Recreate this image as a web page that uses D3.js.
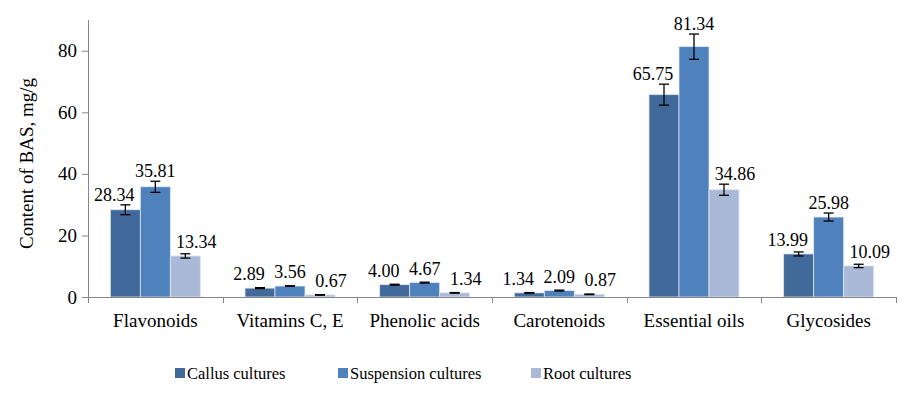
<!DOCTYPE html>
<html>
<head>
<meta charset="utf-8">
<script src="https://cdn.jsdelivr.net/npm/d3@7"></script>
<style>
  body { margin: 0; background: #fff; }
  svg { display: block; }
</style>
</head>
<body>
<div id="chart"></div>
<script>
var categories = ["Flavonoids", "Vitamins C, E", "Phenolic acids", "Carotenoids", "Essential oils", "Glycosides"];
var seriesNames = ["Callus cultures", "Suspension cultures", "Root cultures"];
var callus = [28.34, 2.89, 4.00, 1.34, 65.75, 13.99];
var suspension = [35.81, 3.56, 4.67, 2.09, 81.34, 25.98];
var roots = [13.34, 0.67, 1.34, 0.87, 34.86, 10.09];
// error bar half-widths
var callusErr = [1.6, 0.15, 0.15, 0.1, 3.4, 0.65];
var suspensionErr = [1.8, 0.1, 0.15, 0.15, 4.1, 1.3];
var rootsErr = [0.7, 0.1, 0.1, 0.1, 1.8, 0.55];
var yTicks = [0, 20, 40, 60, 80];
var colors = ["#416a9b", "#4f81bd", "#aab9d7"];

var FONT = "'Liberation Serif', 'Times New Roman', 'DejaVu Serif', serif";
var W = 924, H = 394;
var m = {left: 88, right: 28, top: 20, bottom: 97};

var svg = d3.select("#chart").append("svg").attr("width", W).attr("height", H);

var x = d3.scaleBand().domain(categories).range([m.left, W - m.right]);
var y = d3.scaleLinear().domain([0, 90]).range([H - m.bottom, m.top]);

var values = [callus, suspension, roots];
var errs = [callusErr, suspensionErr, rootsErr];
var barW = 30;

var rows = [];
categories.forEach(function(c, ci){
    values.forEach(function(s, si){
        rows.push({cat: c, s: si, v: s[ci], e: errs[si][ci]});
    });
});

function bx(d){ return x(d.cat) + x.bandwidth() / 2 - 1.5 * barW + d.s * barW; }

// y axis
var yAxis = svg.append("g").attr("transform", "translate(" + m.left + ",0)")
    .call(d3.axisLeft(y).tickValues(yTicks).tickSize(6).tickPadding(5));
yAxis.attr("font-family", null).attr("font-size", null);
yAxis.select(".domain").attr("stroke", "#868686").attr("d", "M0.5," + y(0) + "V" + m.top);
yAxis.selectAll(".tick line").attr("stroke", "#868686");
yAxis.selectAll("text").style("font-family", FONT).style("font-size", "19px").attr("fill", "#000");

// bars
svg.append("g").selectAll("rect").data(rows).enter().append("rect")
    .attr("x", bx)
    .attr("y", function(d){ return y(d.v); })
    .attr("width", barW)
    .attr("height", function(d){ return y(0) - y(d.v); })
    .attr("fill", function(d){ return colors[d.s]; })
    .attr("stroke", "#dfe6f0").attr("stroke-width", 0.8);

// x axis (drawn over bar bottoms)
var xAxis = svg.append("g").attr("transform", "translate(0," + y(0) + ")")
    .call(d3.axisBottom(x).tickSize(0).tickPadding(17));
xAxis.attr("font-family", null).attr("font-size", null);
xAxis.select(".domain").attr("stroke", "#868686").attr("stroke-width", 1.2);
xAxis.selectAll("text").style("font-family", FONT).style("font-size", "19px").attr("fill", "#000");
var bounds = categories.map(function(c){ return x(c); }).concat([W - m.right]);
svg.append("g").selectAll("line").data(bounds).enter().append("line")
    .attr("x1", function(d){ return Math.round(d) + 0.5; })
    .attr("x2", function(d){ return Math.round(d) + 0.5; })
    .attr("y1", y(0)).attr("y2", y(0) + 6)
    .attr("stroke", "#868686");

// error bars
var eb = svg.append("g").attr("stroke", "#000").attr("stroke-width", 1.3);
rows.forEach(function(d){
    var cx = bx(d) + barW / 2;
    var t = y(d.v + d.e), b = y(d.v - d.e);
    eb.append("line").attr("x1", cx).attr("x2", cx).attr("y1", t).attr("y2", b);
    eb.append("line").attr("x1", cx - 5).attr("x2", cx + 5).attr("y1", t).attr("y2", t);
    eb.append("line").attr("x1", cx - 5).attr("x2", cx + 5).attr("y1", b).attr("y2", b);
});

// value labels
svg.append("g").selectAll("text").data(rows).enter().append("text")
    .attr("x", function(d){ return bx(d) + barW / 2 + (d.s - 1) * 11; })
    .attr("y", function(d){ return Math.min(y(d.v) - 8, y(d.v + d.e) - 4); })
    .attr("text-anchor", "middle")
    .style("font-family", FONT)
    .style("font-size", "18px")
    .text(function(d){ return d.v.toFixed(2); });

// y title
svg.append("text")
    .attr("transform", "translate(33," + ((m.top + y(0)) / 2 + 5) + ") rotate(-90)")
    .attr("text-anchor", "middle")
    .style("font-family", FONT)
    .style("font-size", "19px")
    .text("Content of BAS, mg/g");

// legend
var legX = [175, 338, 531];
var leg = svg.append("g").selectAll("g").data(seriesNames).enter().append("g")
    .attr("transform", function(d, i){ return "translate(" + legX[i] + ",368)"; });
leg.append("rect").attr("width", 10).attr("height", 10)
    .attr("fill", function(d, i){ return colors[i]; });
leg.append("text").attr("x", 12).attr("y", 11)
    .style("font-family", FONT)
    .style("font-size", "16.5px")
    .text(function(d){ return d; });
</script>
</body>
</html>
